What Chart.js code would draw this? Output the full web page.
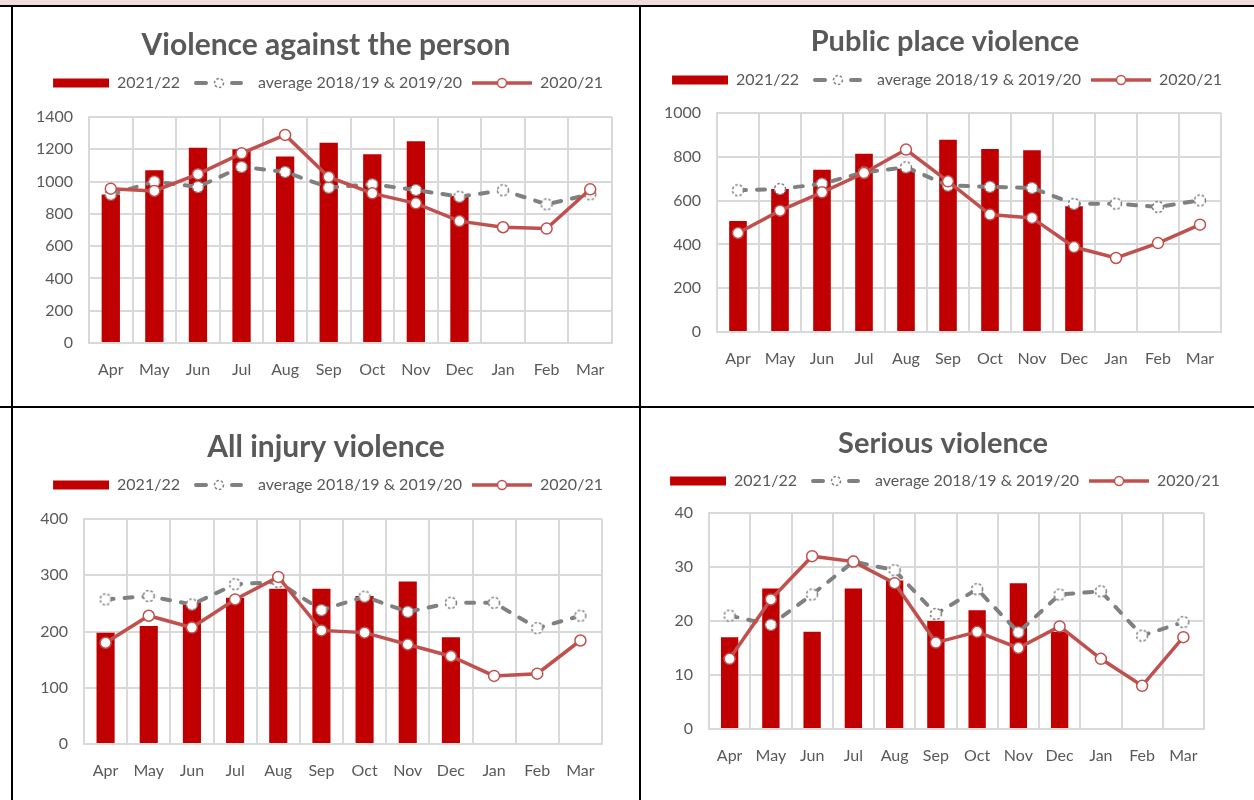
<!DOCTYPE html>
<html>
<head>
<meta charset="utf-8">
<script src="https://cdn.jsdelivr.net/npm/chart.js@4.4.0/dist/chart.umd.min.js"></script>
<style>
    body { margin: 0; background: #fff; width: 1254px; height: 800px; overflow: hidden; position: relative; }
    .line { position: absolute; background: #000; }
    canvas { position: absolute; }
</style>
</head>
<body>
<div style="position:absolute;left:0;top:0;width:1254px;height:5px;background:#f2dcdb"></div>
<div class="line" style="left:0;top:5px;width:1254px;height:1.5px"></div>
<div class="line" style="left:11px;top:5px;width:2px;height:795px"></div>
<div class="line" style="left:639px;top:5px;width:2px;height:795px"></div>
<div class="line" style="left:0;top:406px;width:1254px;height:1.5px"></div>

<canvas id="vap" width="600" height="399" style="left:26px;top:7px"></canvas>
<canvas id="ppv" width="600" height="399" style="left:645px;top:7px"></canvas>
<canvas id="aiv" width="600" height="391" style="left:26px;top:409px"></canvas>
<canvas id="sv" width="600" height="391" style="left:643px;top:409px"></canvas>

<script>
const months = ['Apr', 'May', 'Jun', 'Jul', 'Aug', 'Sep', 'Oct', 'Nov', 'Dec', 'Jan', 'Feb', 'Mar'];

// Violence against the person
const vapBars = [920, 1070, 1210, 1200, 1155, 1240, 1170, 1250, 910];
const vapAvg = [920, 1000, 967, 1091, 1060, 963, 983, 948, 906, 946, 859, 921];
const vapPrev = [956, 942, 1046, 1175, 1289, 1029, 927, 865, 755, 717, 709, 952];

// Public place violence
const ppvBars = [507, 653, 741, 814, 745, 878, 836, 830, 574];
const ppvAvg = [647, 653, 677, 729, 752, 669, 663, 658, 585, 586, 571, 601];
const ppvPrev = [452, 554, 638, 726, 833, 688, 536, 521, 388, 338, 406, 490];

// All injury violence
const aivBars = [198, 210, 252, 260, 276, 276, 263, 289, 190];
const aivAvg = [257, 263, 248, 284, 288, 238, 262, 235, 251, 251, 206, 228];
const aivPrev = [180, 228, 207, 257, 297, 202, 198, 177, 156, 121, 125, 184];

// Serious violence
const svBars = [17, 26, 18, 26, 27.5, 20, 22, 27, 18];
const svAvg = [21, 19.3, 24.9, 31, 29.4, 21.3, 25.9, 17.9, 24.9, 25.5, 17.3, 19.8];
const svPrev = [13, 24, 32, 31, 27, 16, 18, 15, 19, 13, 8, 17];

const seriesNames = ['2021/22', 'average 2018/19 & 2019/20', '2020/21'];

const BAR_RED = '#c00000';
const LINE_RED = '#c0504d';
const GREY = '#808080';
const GRID = '#d9d9d9';
const TEXT = '#595959';
const FONT = 'Lato, "Open Sans", sans-serif';

function ring(color, r, dashed) {
    const size = Math.ceil(r * 2 + 3);
    const c = document.createElement('canvas');
    c.width = c.height = size;
    const g = c.getContext('2d');
    g.beginPath();
    g.arc(size / 2, size / 2, r, 0, Math.PI * 2);
    g.fillStyle = '#fff';
    g.fill();
    g.lineWidth = 1.5;
    g.strokeStyle = color;
    if (dashed) g.setLineDash([2.5, 2]);
    g.stroke();
    return c;
}

// legend symbols, 60px wide
function legendIcon(kind) {
    const c = document.createElement('canvas');
    c.width = 60;
    c.height = 14;
    const g = c.getContext('2d');
    if (kind === 'bar') {
        g.fillStyle = BAR_RED;
        g.fillRect(4, 2.5, 56, 9);
    } else if (kind === 'avg') {
        g.strokeStyle = GREY;
        g.lineWidth = 4;
        g.lineCap = 'round';
        g.beginPath();
        g.moveTo(6, 7); g.lineTo(16, 7);
        g.moveTo(42, 7); g.lineTo(51, 7);
        g.stroke();
        g.drawImage(ring(GREY, 4.5, true), 29 - 6, 1);
    } else {
        g.strokeStyle = LINE_RED;
        g.lineWidth = 3.5;
        g.beginPath();
        g.moveTo(0, 7); g.lineTo(60, 7);
        g.stroke();
        g.drawImage(ring(LINE_RED, 4.5, false), 30 - 6, 1);
    }
    return c;
}

const greyMarker = ring(GREY, 5.5, true);
const icons = [legendIcon('bar'), legendIcon('avg'), legendIcon('line')];

function buildChart(id, p) {
    const tickFont = {family: FONT, size: 16};
    return new Chart(document.getElementById(id), {
        type: 'bar',
        data: {
            labels: months,
            datasets: [{
                label: seriesNames[0],
                data: p.bars,
                backgroundColor: BAR_RED,
                barPercentage: 0.42,
                categoryPercentage: 1,
                xAxisID: 'x',
                yAxisID: 'y',
                order: 3
            }, {
                type: 'line',
                label: seriesNames[1],
                data: p.avg,
                borderColor: GREY,
                borderWidth: 4,
                borderDash: [8, 11],
                borderCapStyle: 'round',
                pointStyle: greyMarker,
                xAxisID: 'x',
                yAxisID: 'y',
                order: 2
            }, {
                type: 'line',
                label: seriesNames[2],
                data: p.prev,
                borderColor: LINE_RED,
                borderWidth: 3.5,
                pointRadius: 5.5,
                pointBorderWidth: 1.5,
                pointBorderColor: LINE_RED,
                pointBackgroundColor: '#fff',
                xAxisID: 'x',
                yAxisID: 'y',
                order: 1
            }]
        },
        options: {
            responsive: false,
            animation: false,
            devicePixelRatio: 1,
            layout: {padding: 0},
            plugins: {
                title: {
                    display: true,
                    text: p.title,
                    color: TEXT,
                    font: {family: FONT, size: p.titleSize, weight: 'bold', lineHeight: 1},
                    padding: {top: p.titleTop, bottom: p.titleBottom}
                },
                legend: {
                    labels: {
                        usePointStyle: true,
                        pointStyleWidth: 60,
                        padding: 10,
                        color: TEXT,
                        font: {family: FONT, size: 16},
                        generateLabels: chart => Chart.defaults.plugins.legend.labels.generateLabels(chart)
                            .sort((a, b) => a.datasetIndex - b.datasetIndex)
                            .map(item => Object.assign(item, {pointStyle: icons[item.datasetIndex], rotation: 0}))
                    }
                },
                tooltip: {enabled: false}
            },
            scales: {
                x: {
                    grid: {color: GRID, lineWidth: 2, drawTicks: false},
                    border: {color: GRID, width: 2},
                    ticks: {color: TEXT, font: tickFont, padding: 17},
                    afterFit: s => { s.height = p.xH; }
                },
                y: {
                    min: 0,
                    max: p.max,
                    grid: {color: GRID, lineWidth: 2, drawTicks: false},
                    border: {color: GRID, width: 2},
                    ticks: {stepSize: p.step, color: TEXT, font: tickFont, padding: 16, format: {useGrouping: false}},
                    afterFit: s => { s.width = p.yW; }
                },
                // empty axes that only hold space around the plot
                gap: {
                    type: 'linear',
                    position: 'top',
                    grid: {display: false},
                    border: {display: false},
                    ticks: {display: false},
                    afterFit: s => { s.height = p.gap; }
                },
                side: {
                    type: 'linear',
                    position: 'right',
                    grid: {display: false},
                    border: {display: false},
                    ticks: {display: false},
                    afterFit: s => { s.width = p.rW; }
                }
            }
        }
    });
}

buildChart('vap', {title: 'Violence against the person', bars: vapBars, avg: vapAvg, prev: vapPrev,
    max: 1400, step: 200, yW: 63, rW: 14, xH: 63, titleSize: 30, titleTop: 23, titleBottom: 5, gap: 16});
buildChart('ppv', {title: 'Public place violence', bars: ppvBars, avg: ppvAvg, prev: ppvPrev,
    max: 1000, step: 200, yW: 72, rW: 24, xH: 74, titleSize: 29, titleTop: 20.5, titleBottom: 5.5, gap: 15});
buildChart('aiv', {title: 'All injury violence', bars: aivBars, avg: aivAvg, prev: aivPrev,
    max: 400, step: 100, yW: 58, rW: 24, xH: 56, titleSize: 30, titleTop: 23, titleBottom: 5, gap: 16});
buildChart('sv', {title: 'Serious violence', bars: svBars, avg: svAvg, prev: svPrev,
    max: 40, step: 10, yW: 66, rW: 39, xH: 71, titleSize: 29, titleTop: 20.5, titleBottom: 4.5, gap: 14});
</script>
</body>
</html>
